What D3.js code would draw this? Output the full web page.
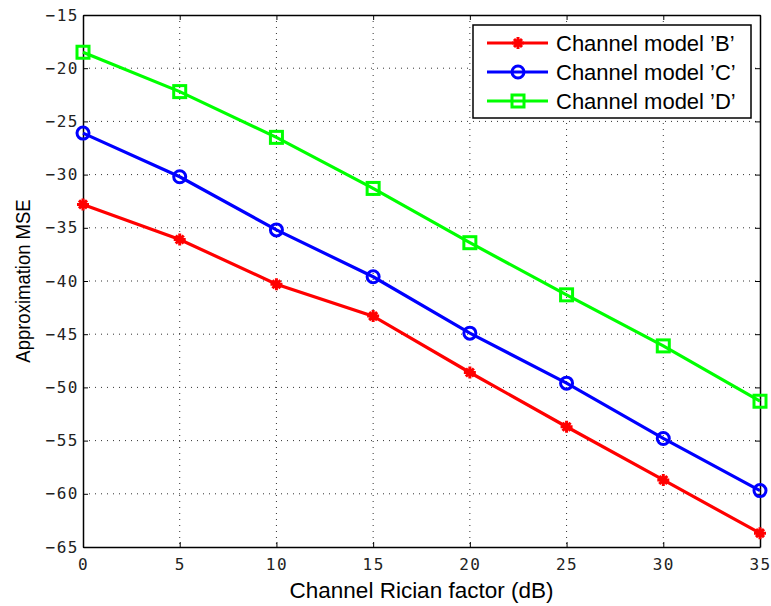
<!DOCTYPE html>
<html>
<head>
<meta charset="utf-8">
<script src="https://cdn.jsdelivr.net/npm/d3@7"></script>
<style>
  body { margin: 0; background: #fff; }
  svg { display: block; }
  .tick text { font-family: "DejaVu Sans Mono", monospace; font-size: 16px; fill: #222; letter-spacing: 1.5px; }
</style>
</head>
<body>
<div id="chart"></div>
<script>
const W = 771
const H = 606
const margin = { top: 15, right: 11, bottom: 59, left: 83 }

// data
const ricianDb = [0, 5, 10, 15, 20, 25, 30, 35]
const modelB = [-32.8, -36.1, -40.3, -43.3, -48.6, -53.7, -58.7, -63.7]
const modelC = [-26.1, -30.2, -35.2, -39.6, -44.9, -49.6, -54.8, -59.7]
const modelD = [-18.5, -22.2, -26.5, -31.3, -36.4, -41.3, -46.1, -51.3]
const seriesNames = ["Channel model 'B'", "Channel model 'C'", "Channel model 'D'"]
const seriesColors = ["#ff0000", "#0000ff", "#00ff00"]
const seriesMarkers = ["star", "circle", "square"]
const xTicks = [0, 5, 10, 15, 20, 25, 30, 35]
const yTicks = [-65, -60, -55, -50, -45, -40, -35, -30, -25, -20, -15]

const series = [modelB, modelC, modelD].map((vals, i) => ({
    name: seriesNames[i],
    color: seriesColors[i],
    marker: seriesMarkers[i],
    points: vals.map((v, j) => ({ x: ricianDb[j], y: v }))
}))

const iw = W - margin.left - margin.right
const ih = H - margin.top - margin.bottom

const x = d3.scaleLinear().domain([0, 35]).range([0, iw])
const y = d3.scaleLinear().domain([-65, -15]).range([ih, 0])

const svg = d3.select("#chart").append("svg")
    .attr("width", W)
    .attr("height", H)

const g = svg.append("g").attr("transform", `translate(${margin.left},${margin.top})`)

// grid
g.append("g").selectAll("line")
    .data(xTicks.slice(1, -1))
    .enter().append("line")
    .attr("x1", d => x(d)).attr("x2", d => x(d))
    .attr("y1", 0).attr("y2", ih)
    .attr("stroke", "#333").attr("stroke-width", 1)
    .attr("stroke-dasharray", "1,5")
g.append("g").selectAll("line")
    .data(yTicks.slice(1, -1))
    .enter().append("line")
    .attr("y1", d => y(d)).attr("y2", d => y(d))
    .attr("x1", 0).attr("x2", iw)
    .attr("stroke", "#333").attr("stroke-width", 1)
    .attr("stroke-dasharray", "1,5")

// axes
const xAxis = g.append("g").attr("transform", `translate(0,${ih})`)
    .call(d3.axisBottom(x).tickValues(xTicks).tickSizeInner(-5).tickSizeOuter(0).tickPadding(12))
const xAxisTop = g.append("g")
    .call(d3.axisTop(x).tickValues(xTicks).tickSizeInner(-5).tickSizeOuter(0).tickFormat(""))
const yAxis = g.append("g")
    .call(d3.axisLeft(y).tickValues(yTicks).tickSizeInner(-5).tickSizeOuter(0).tickPadding(4)
        .tickFormat(d => d3.format("d")(d).replace("-", "\u2212")))
const yAxisRight = g.append("g").attr("transform", `translate(${iw},0)`)
    .call(d3.axisRight(y).tickValues(yTicks).tickSizeInner(-5).tickSizeOuter(0).tickFormat(""))

for (const a of [xAxis, xAxisTop, yAxis, yAxisRight]) {
    a.select(".domain").attr("stroke", "#000").attr("stroke-width", 1.5)
    a.selectAll(".tick line").attr("stroke", "#000")
}
xAxis.selectAll(".tick text").attr("dy", "0.71em")

// lines
const line = d3.line().x(d => x(d.x)).y(d => y(d.y))

function drawMarker(sel, type, color) {
    if (type === "circle") {
        sel.append("circle").attr("r", 6)
            .attr("fill", "none").attr("stroke", color).attr("stroke-width", 3)
    } else if (type === "square") {
        sel.append("rect").attr("x", -6).attr("y", -6).attr("width", 12).attr("height", 12)
            .attr("fill", "none").attr("stroke", color).attr("stroke-width", 3)
    } else {
        sel.append("path")
            .attr("d", "M-6,0L6,0M0,-6L0,6M-4,-4L4,4M-4,4L4,-4")
            .attr("fill", "none").attr("stroke", color).attr("stroke-width", 3)
    }
}

const plot = g.append("g")
for (const s of series) {
    plot.append("path")
        .datum(s.points)
        .attr("d", line)
        .attr("fill", "none")
        .attr("stroke", s.color)
        .attr("stroke-width", 3.2)
    const marks = plot.append("g").selectAll("g")
        .data(s.points)
        .enter().append("g")
        .attr("transform", d => `translate(${x(d.x)},${y(d.y)})`)
    drawMarker(marks, s.marker, s.color)
}

// axis labels
svg.append("text")
    .attr("x", margin.left + iw / 2)
    .attr("y", 598)
    .attr("text-anchor", "middle")
    .attr("font-family", "Liberation Sans, Arial, sans-serif")
    .attr("font-size", 22.5)
    .text("Channel Rician factor (dB)")

svg.append("text")
    .attr("transform", `translate(30,${margin.top + ih / 2}) rotate(-90) scale(1,1.12)`)
    .attr("text-anchor", "middle")
    .attr("font-family", "Liberation Sans, Arial, sans-serif")
    .attr("font-size", 18.5)
    .text("Approximation MSE")

// legend
const legend = svg.append("g").attr("transform", "translate(473,25)")
legend.append("rect")
    .attr("width", 278).attr("height", 93)
    .attr("fill", "#fff").attr("stroke", "#000").attr("stroke-width", 1.5)

const items = legend.selectAll("g.item")
    .data(series)
    .enter().append("g")
    .attr("class", "item")
    .attr("transform", (d, i) => `translate(0,${18 + i * 29})`)
items.append("line")
    .attr("x1", 14).attr("x2", 75)
    .attr("stroke", d => d.color).attr("stroke-width", 3.2)
items.each(function(d) {
    const m = d3.select(this).append("g").attr("transform", "translate(45,0)")
    drawMarker(m, d.marker, d.color)
})
items.append("text")
    .attr("x", 83).attr("y", 0).attr("dy", "0.36em")
    .attr("font-family", "Liberation Sans, Arial, sans-serif")
    .attr("font-size", 22)
    .text(d => d.name.replace(/'/g, "\u2019"))
</script>
</body>
</html>
